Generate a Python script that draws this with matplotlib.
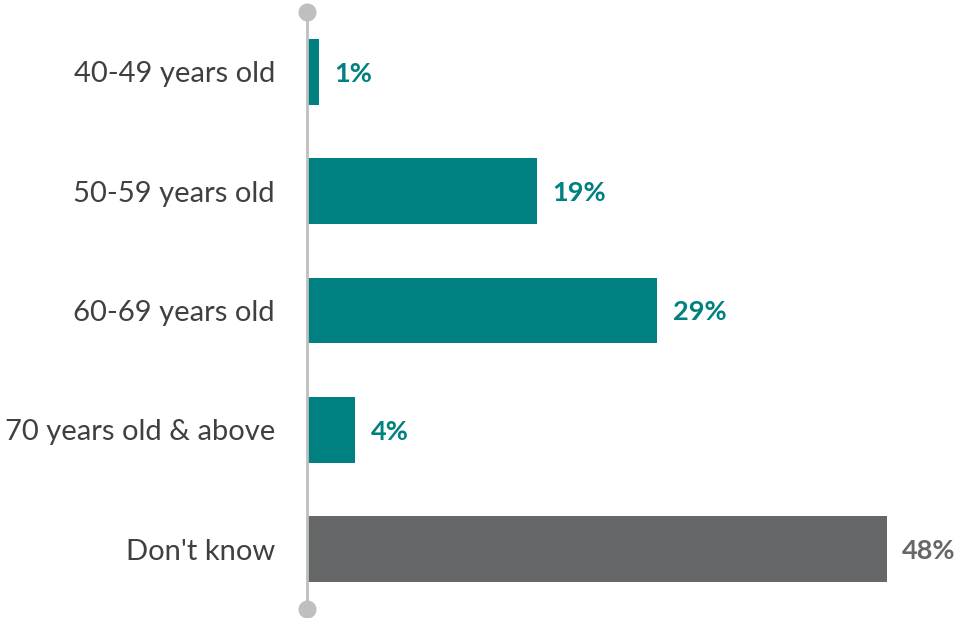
import matplotlib
matplotlib.use("Agg")
import matplotlib.pyplot as plt

categories = ["40-49 years old", "50-59 years old", "60-69 years old",
              "70 years old & above", "Don't know"]
values = [1, 19, 29, 4, 48]
value_labels = ["1%", "19%", "29%", "4%", "48%"]
bar_colors = ["#008080", "#008080", "#008080", "#008080", "#666769"]

plt.rcParams['font.family'] = ['Lato', 'DejaVu Sans']

W, H = 958, 618
fig = plt.figure(figsize=(W / 100, H / 100), dpi=100)
left_px, top_px, bottom_px = 307, 12, 609
ax = fig.add_axes([left_px / W, 1 - bottom_px / H, 1 - left_px / W, (bottom_px - top_px) / H])

ypos = list(range(len(categories)))
ax.barh(ypos, values, height=0.55, color=bar_colors, zorder=2)
ax.set_ylim(len(categories) - 0.5, -0.5)
ax.set_xlim(0, (W - left_px) / 12.08)

for y, v, lab, c in zip(ypos, values, value_labels, bar_colors):
    ax.annotate(lab, (v, y), xytext=(11, 0), textcoords="offset points",
                ha="left", va="center_baseline", fontsize=19.5, fontweight="bold", color=c)

ax.set_yticks(ypos)
ax.set_yticklabels(categories, fontsize=21, color="#404040", va="center_baseline")
ax.tick_params(axis="y", length=0, pad=23)
ax.set_xticks([])
for s in ["top", "right", "bottom"]:
    ax.spines[s].set_visible(False)
ax.spines["left"].set_color("#BFBFBF")
ax.spines["left"].set_linewidth(2)
ax.spines["left"].set_zorder(3)

ax.plot([0, 0], [-0.5, len(categories) - 0.5], 'o', color="#BFBFBF", markersize=12,
        clip_on=False, zorder=4)

fig.savefig("out.png", dpi=100)
